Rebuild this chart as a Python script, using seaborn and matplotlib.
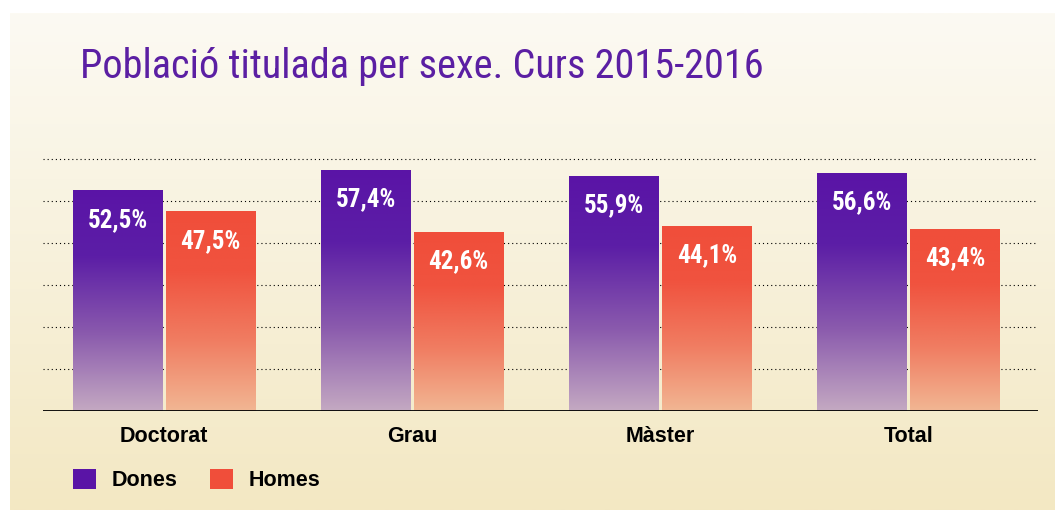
import numpy as np
import pandas as pd
import seaborn as sns
import matplotlib.pyplot as plt
from matplotlib.colors import LinearSegmentedColormap
from matplotlib.patches import Patch

# data
categories = ["Doctorat", "Grau", "Màster", "Total"]
dones = [52.5, 57.4, 55.9, 56.6]
homes = [47.5, 42.6, 44.1, 43.4]
series = ["Dones", "Homes"]
title = "Població titulada per sexe. Curs 2015-2016"

df = pd.DataFrame({
    "cat": categories * 2,
    "val": dones + homes,
    "sexe": ["Dones"] * 4 + ["Homes"] * 4,
})

purple = "#5a14a6"
red = "#f04e3a"
narrow = ["Roboto Condensed", "Liberation Sans Narrow", "Roboto", "DejaVu Sans"]

sns.set_style("white")
plt.rcParams["font.family"] = ["Liberation Sans", "DejaVu Sans"]
plt.rcParams["text.color"] = "black"
plt.rcParams["xtick.color"] = "black"

fig = plt.figure(figsize=(10.55, 5.15), dpi=100)

# cream background panel
bg = fig.add_axes([10 / 1055, 5 / 515, 1045 / 1055, 497 / 515], zorder=-5)
bg_cmap = LinearSegmentedColormap.from_list("bg", ["#f3e8c3", "#fcfaf3"])
bg.imshow(np.linspace(0, 1, 256).reshape(-1, 1), cmap=bg_cmap, aspect="auto",
          origin="lower", extent=[0, 1, 0, 1])
bg.set_axis_off()

ax = fig.add_axes([43 / 1055, 104 / 515, 995 / 1055, 260 / 515])
ax.patch.set_alpha(0)

sns.barplot(data=df, x="cat", y="val", hue="sexe", hue_order=series,
            palette=[purple, red], width=0.75, gap=0.04, legend=False, ax=ax)

grads = {
    "Dones": LinearSegmentedColormap.from_list(
        "d", [(0, "#c4a9c2"), (0.35, "#8a5aad"), (0.7, "#5c1ea6"), (1, purple)]),
    "Homes": LinearSegmentedColormap.from_list(
        "h", [(0, "#f2b693"), (0.35, "#f07d62"), (0.7, "#f0533f"), (1, red)]),
}
grad = np.linspace(0, 1, 256).reshape(-1, 1)

for name, cont in zip(series, ax.containers):
    for bar in cont:
        x0 = bar.get_x()
        w = bar.get_width()
        h = bar.get_height()
        ax.imshow(grad, cmap=grads[name], aspect="auto", origin="lower",
                  extent=[x0, x0 + w, 0, h], zorder=2)
        bar.set_visible(False)
        ax.annotate(f"{h:.1f}".replace(".", ",") + "%", xy=(x0 + w / 2, h),
                    xytext=(0, -29), textcoords="offset pixels",
                    ha="center", va="center", color="white",
                    fontsize=18, fontweight="bold", family=narrow, zorder=4)

ax.set_xlim(-0.4875, 3.522)
ax.set_ylim(0, 62)
ax.set_yticks([10, 20, 30, 40, 50, 60])
ax.set_yticklabels([])
ax.yaxis.grid(True, linestyle=(0, (1, 2.7)), color="black", linewidth=0.8)
ax.set_axisbelow(True)
ax.axhline(0, color="black", linewidth=1.3, zorder=5)
for s in ax.spines.values():
    s.set_visible(False)
ax.tick_params(axis="both", length=0)
ax.tick_params(axis="x", pad=11)
ax.set_xticks(range(len(categories)))
ax.set_xticklabels(categories, fontsize=15.5, fontweight="bold", color="black")
ax.set_xlabel("")
ax.set_ylabel("")

fig.text(80 / 1055, 1 - 78 / 515, title, color="#5b1fa3", fontsize=29,
         family=narrow, va="baseline", ha="left")

handles = [Patch(facecolor=purple, edgecolor="none"),
           Patch(facecolor=red, edgecolor="none")]
fig.legend(handles, series, loc="upper left",
           bbox_to_anchor=(73 / 1055, 1 - 469 / 515), ncol=2, frameon=False,
           borderpad=0, borderaxespad=0, handlelength=1.05, handleheight=1.05,
           handletextpad=0.75, columnspacing=1.5,
           prop={"size": 15.5, "weight": "bold"})

fig.savefig("out.png", dpi=100, facecolor="white")
